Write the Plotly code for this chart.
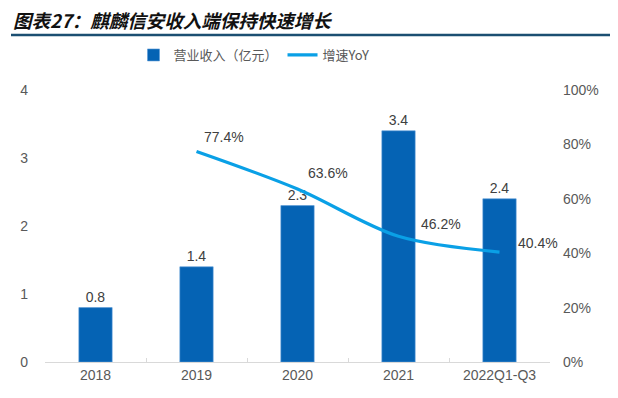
import plotly.graph_objects as go

categories = ["2018", "2019", "2020", "2021", "2022Q1-Q3"]
revenue = [0.8, 1.4, 2.3, 3.4, 2.4]
revenue_labels = ["0.8", "1.4", "2.3", "3.4", "2.4"]
yoy_cats = ["2019", "2020", "2021", "2022Q1-Q3"]
yoy = [0.774, 0.636, 0.462, 0.404]
yoy_labels = ["77.4%", "63.6%", "46.2%", "40.4%"]
left_ticks = [0, 1, 2, 3, 4]
right_ticks = [0, 0.2, 0.4, 0.6, 0.8, 1.0]
right_tick_labels = ["0%", "20%", "40%", "60%", "80%", "100%"]

# label offsets (style only)
yoy_label_shift = [(27, 14), (30, 16), (42, 12), (38, 9)]

TXT = "#595959"
FONT = "Liberation Sans, Arial, Noto Sans CJK SC, sans-serif"

# page body has an 8px margin; figure sized so it ends at the window edge
W, H = 610, 390
L, R, T, B = 37, 68, 82, 36
PW, PH = W - L - R, H - T - B

fig = go.Figure()
fig.add_trace(go.Bar(
    x=categories, y=revenue, name="营业收入（亿元）",
    marker=dict(color="#0563B4", line=dict(color="#5A9BD8", width=0.6)),
    width=0.33,
    text=revenue_labels, textposition="outside",
    textfont=dict(size=14, color="#404040"),
    cliponaxis=False,
))
fig.add_trace(go.Scatter(
    x=yoy_cats, y=yoy, name="增速YoY", yaxis="y2",
    mode="lines", line=dict(color="#0AA0E6", width=3.2, shape="spline", smoothing=0.9),
))

for c, v, t, (dx, dy) in zip(yoy_cats, yoy, yoy_labels, yoy_label_shift):
    fig.add_annotation(x=categories.index(c), xref="x", y=v, yref="y2", text=t, showarrow=False,
                       xshift=dx, yshift=dy,
                       font=dict(size=14, color="#404040", family=FONT))

fig.add_annotation(
    xref="paper", yref="paper", x=-(L-3)/PW, y=1 + (T-27)/PH, xanchor="left", yanchor="bottom",
    text="<b><i>图表27：麒麟信安收入端保持快速增长</i></b>", showarrow=False,
    font=dict(size=18.5, color="#111111", family="Noto Sans CJK SC, sans-serif"),
)
fig.add_shape(type="line", xref="paper", yref="paper",
              x0=-(L-3)/PW, x1=1 + R/PW, y0=1 + (T-27)/PH, y1=1 + (T-27)/PH,
              line=dict(color="#1B4F72", width=2.5))

fig.update_layout(
    width=W, height=H,
    margin=dict(l=L, r=R, t=T, b=B),
    paper_bgcolor="white", plot_bgcolor="white",
    font=dict(family=FONT, size=14, color=TXT),
    showlegend=True,
    legend=dict(orientation="h", x=(246-L)/PW, xanchor="center", y=1 + (T-47)/PH, yanchor="middle",
                font=dict(size=13, color=TXT, family="Noto Sans CJK SC, sans-serif"),
                itemwidth=30, tracegroupgap=0, bgcolor="rgba(0,0,0,0)"),
    xaxis=dict(type="category", categoryorder="array", categoryarray=categories,
               range=[-0.5, len(categories) - 0.5],
               showline=True, linecolor="#D9D9D9", linewidth=1.2,
               ticks="inside", tickson="boundaries", ticklen=4, tickcolor="#D9D9D9",
               showgrid=False, tickangle=0, tickfont=dict(size=14, color=TXT)),
    yaxis=dict(range=[0, 4], tickvals=left_ticks, showgrid=False, zeroline=False,
               showline=False, ticks="", ticklabelstandoff=16, tickfont=dict(size=14, color=TXT)),
    yaxis2=dict(range=[0, 1], tickvals=right_ticks, ticktext=right_tick_labels,
                overlaying="y", side="right", showgrid=False, zeroline=False,
                showline=False, ticks="", ticklabelstandoff=12, tickfont=dict(size=14, color=TXT)),
)

fig.write_html("out.html")
